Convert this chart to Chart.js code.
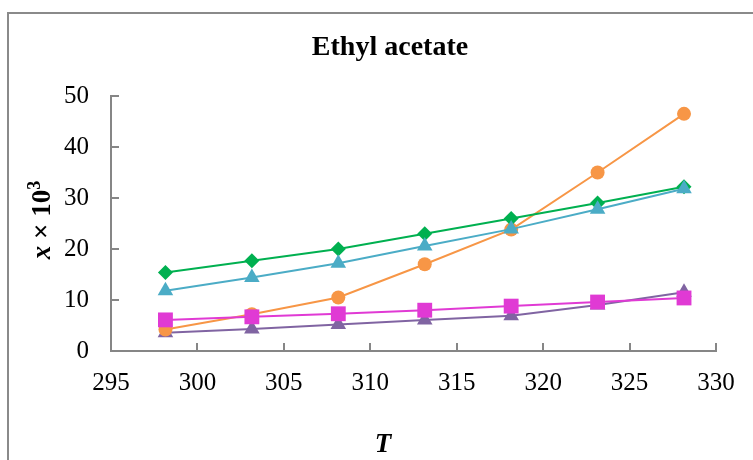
<!DOCTYPE html>
<html>
<head>
<meta charset="utf-8">
<script src="https://cdn.jsdelivr.net/npm/chart.js@4/dist/chart.umd.min.js"></script>
<style>
  html, body { margin: 0; padding: 0; background: #fff; }
  #wrap { width: 753px; height: 460px; position: relative; }
</style>
</head>
<body>
<div id="wrap"><canvas id="chart" width="753" height="460"></canvas></div>
<script>
// temperatures (K)
const temps = [298.15, 303.15, 308.15, 313.15, 318.15, 323.15, 328.15];

// mole fraction x 10^3 per series
const greenVals = [15.4, 17.7, 20.0, 23.0, 26.0, 29.0, 32.2];
const cyanVals = [11.8, 14.4, 17.2, 20.6, 23.9, 27.8, 31.8];
const orangeVals = [4.2, 7.2, 10.5, 17.0, 23.8, 35.0, 46.5];
const magentaVals = [6.1, 6.7, 7.3, 8.0, 8.8, 9.6, 10.4];
const purpleVals = [3.6, 4.3, 5.2, 6.1, 6.9, 9.0, 11.5];

const xTicks = [295, 300, 305, 310, 315, 320, 325, 330];
const yTicks = [0, 10, 20, 30, 40, 50];

const chartTitle = 'Ethyl acetate';
const xTitle = 'T';

const AXIS = '#868686';
const SERIF = '"Liberation Serif", "Times New Roman", serif';

const toPoints = vals => vals.map((v, i) => ({ x: temps[i], y: v }));

function series(vals, color, style, radius) {
    return {
        data: toPoints(vals),
        borderColor: color,
        backgroundColor: color,
        borderWidth: 2,
        pointStyle: style,
        pointRadius: radius,
        pointBorderWidth: 0,
        pointBackgroundColor: color,
        tension: 0,
        clip: false
    };
}

// frame, titles and inward tick marks
const decor = {
    id: 'decor',
    afterDraw(chart) {
        const ctx = chart.ctx;
        const xs = chart.scales.x, ys = chart.scales.y;
        ctx.save();

        // outer frame
        ctx.strokeStyle = '#8a8a8a';
        ctx.lineWidth = 2;
        ctx.strokeRect(8, 13, 900, 900);

        // tick marks pointing into the plot
        ctx.strokeStyle = AXIS;
        ctx.lineWidth = 2;
        ctx.beginPath();
        xTicks.forEach(t => {
            const px = Math.round(xs.getPixelForValue(t));
            ctx.moveTo(px, ys.bottom);
            ctx.lineTo(px, ys.bottom - 8);
        });
        yTicks.forEach(t => {
            const py = Math.round(ys.getPixelForValue(t));
            ctx.moveTo(xs.left, py);
            ctx.lineTo(xs.left + 8, py);
        });
        ctx.stroke();

        // chart title
        ctx.fillStyle = '#000';
        ctx.textAlign = 'center';
        ctx.textBaseline = 'middle';
        ctx.font = 'bold 28px ' + SERIF;
        ctx.fillText(chartTitle, 390, 48);

        // x axis title
        ctx.font = 'italic bold 27px ' + SERIF;
        ctx.fillText(xTitle, 383, 445);

        // y axis title: x × 10³
        ctx.translate(41, 220);
        ctx.rotate(-Math.PI / 2);
        const parts = [
            { t: 'x', f: 'italic bold 27px ' + SERIF, dy: 0 },
            { t: ' \u00d7 10', f: 'bold 27px ' + SERIF, dy: 0 },
            { t: '3', f: 'bold 18px ' + SERIF, dy: -10 }
        ];
        let total = 0;
        parts.forEach(p => { ctx.font = p.f; p.w = ctx.measureText(p.t).width; total += p.w; });
        let cx = -total / 2;
        ctx.textAlign = 'left';
        ctx.textBaseline = 'alphabetic';
        parts.forEach(p => {
            ctx.font = p.f;
            ctx.fillText(p.t, cx, 9 + p.dy);
            cx += p.w;
        });
        ctx.restore();
    }
};

new Chart(document.getElementById('chart'), {
    type: 'line',
    data: {
        datasets: [
            series(magentaVals, '#E03AD4', 'rect', 10.5),
            series(cyanVals, '#4BACC6', 'triangle', 9),
            series(greenVals, '#00B050', 'rectRot', 7.5),
            series(orangeVals, '#F79646', 'circle', 7),
            series(purpleVals, '#8064A2', 'triangle', 9)
        ]
    },
    options: {
        responsive: false,
        animation: false,
        devicePixelRatio: 1,
        layout: { padding: { left: 0, right: 37, top: 96, bottom: 0 } },
        plugins: {
            legend: { display: false },
            title: { display: false },
            tooltip: { enabled: false }
        },
        scales: {
            x: {
                type: 'linear',
                min: 295,
                max: 330,
                afterBuildTicks: s => { s.ticks = xTicks.map(v => ({ value: v })); },
                afterFit: s => { s.height = 109; },
                grid: { display: false, drawTicks: false },
                border: { display: true, color: AXIS, width: 2 },
                ticks: {
                    padding: 17,
                    autoSkip: false,
                    color: '#000',
                    font: { family: SERIF, size: 25 },
                    maxRotation: 0
                }
            },
            y: {
                min: 0,
                max: 50,
                afterBuildTicks: s => { s.ticks = yTicks.map(v => ({ value: v })); },
                afterFit: s => { s.width = 111; },
                grid: { display: false, drawTicks: false },
                border: { display: true, color: AXIS, width: 2 },
                ticks: {
                    padding: 22,
                    autoSkip: false,
                    color: '#000',
                    font: { family: SERIF, size: 25 }
                }
            }
        }
    },
    plugins: [decor]
});
</script>
</body>
</html>
